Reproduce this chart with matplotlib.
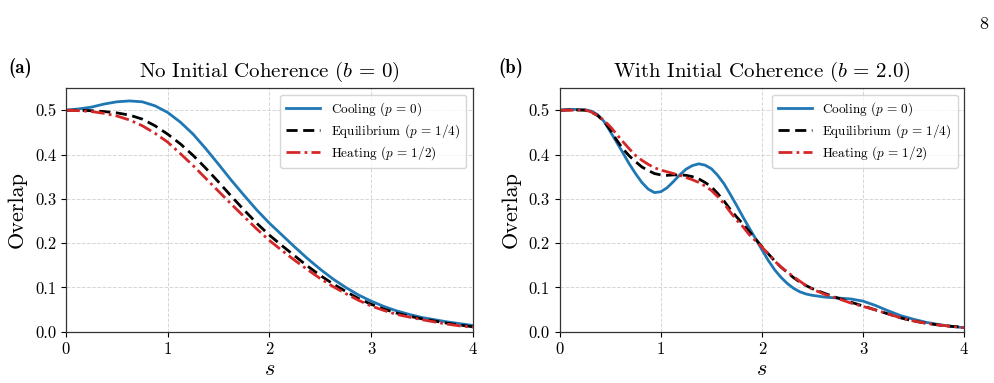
import numpy as np
import matplotlib
matplotlib.use("Agg")
import matplotlib.pyplot as plt

plt.rcParams.update({
    "font.family": "serif",
    "font.serif": ["cmr10"],
    "mathtext.fontset": "cm",
    "axes.formatter.use_mathtext": True,
    "axes.unicode_minus": False,
})

# Panel (a): no initial coherence (b = 0)
s_a = [0.0, 0.125, 0.25, 0.375, 0.5, 0.625, 0.75, 0.875, 1.0, 1.125, 1.25, 1.375,
       1.5, 1.625, 1.75, 1.875, 2.0, 2.125, 2.25, 2.375, 2.5, 2.625, 2.75, 2.875,
       3.0, 3.125, 3.25, 3.375, 3.5, 3.625, 3.75, 3.875, 4.0]
cool_a = [0.500, 0.503, 0.507, 0.514, 0.519, 0.521, 0.519, 0.510, 0.495, 0.473,
          0.446, 0.413, 0.378, 0.342, 0.308, 0.275, 0.245, 0.218, 0.191, 0.165,
          0.141, 0.119, 0.100, 0.083, 0.069, 0.057, 0.047, 0.039, 0.032, 0.027,
          0.022, 0.018, 0.014]
eq_a = [0.500, 0.500, 0.499, 0.497, 0.494, 0.489, 0.480, 0.465, 0.446, 0.424,
        0.398, 0.369, 0.338, 0.306, 0.275, 0.245, 0.218, 0.194, 0.171, 0.148,
        0.127, 0.108, 0.091, 0.075, 0.062, 0.051, 0.042, 0.035, 0.029, 0.024,
        0.019, 0.015, 0.011]
heat_a = [0.500, 0.499, 0.497, 0.493, 0.487, 0.478, 0.465, 0.448, 0.428, 0.402,
          0.375, 0.346, 0.317, 0.288, 0.260, 0.232, 0.206, 0.183, 0.161, 0.140,
          0.120, 0.102, 0.086, 0.071, 0.058, 0.048, 0.039, 0.033, 0.027, 0.022,
          0.017, 0.013, 0.010]

# Panel (b): with initial coherence (b = 2.0)
s_b = [0.0, 0.125, 0.25, 0.3125, 0.375, 0.4375, 0.5, 0.5625, 0.625, 0.6875,
       0.75, 0.8125, 0.875, 0.9375, 1.0, 1.0625, 1.125, 1.1875, 1.25, 1.3125,
       1.375, 1.4375, 1.5, 1.5625, 1.625, 1.6875, 1.75, 1.8125, 1.875, 1.9375,
       2.0, 2.0625, 2.125, 2.1875, 2.25, 2.3125, 2.375, 2.4375, 2.5, 2.625,
       2.75, 2.875, 3.0, 3.125, 3.25, 3.375, 3.5, 3.625, 3.75, 3.875, 4.0]
cool_b = [0.500, 0.502, 0.501, 0.498, 0.490, 0.475, 0.452, 0.428, 0.404, 0.379,
          0.357, 0.337, 0.322, 0.314, 0.316, 0.325, 0.339, 0.354, 0.367, 0.375,
          0.379, 0.376, 0.368, 0.353, 0.334, 0.310, 0.285, 0.259, 0.234, 0.210,
          0.185, 0.161, 0.140, 0.123, 0.109, 0.098, 0.090, 0.085, 0.082, 0.078,
          0.076, 0.074, 0.069, 0.059, 0.047, 0.036, 0.028, 0.021, 0.016, 0.012,
          0.009]
eq_b = [0.500, 0.501, 0.500, 0.496, 0.488, 0.475, 0.456, 0.433, 0.413, 0.397,
        0.384, 0.372, 0.364, 0.357, 0.354, 0.353, 0.354, 0.354, 0.353, 0.350,
        0.345, 0.337, 0.327, 0.312, 0.295, 0.276, 0.259, 0.243, 0.226, 0.209,
        0.192, 0.176, 0.160, 0.146, 0.134, 0.122, 0.112, 0.104, 0.097, 0.086,
        0.076, 0.067, 0.058, 0.049, 0.040, 0.031, 0.024, 0.019, 0.015, 0.012,
        0.010]
heat_b = [0.500, 0.500, 0.501, 0.496, 0.488, 0.477, 0.463, 0.446, 0.429, 0.413,
          0.398, 0.387, 0.378, 0.370, 0.365, 0.361, 0.357, 0.353, 0.348, 0.343,
          0.337, 0.329, 0.319, 0.305, 0.289, 0.270, 0.252, 0.237, 0.219, 0.205,
          0.191, 0.176, 0.160, 0.146, 0.135, 0.124, 0.114, 0.104, 0.096, 0.084,
          0.075, 0.065, 0.057, 0.049, 0.040, 0.031, 0.024, 0.019, 0.015, 0.012,
          0.009]

labels = [r"Cooling ($p\,=\,0$)", r"Equilibrium ($p\,=\,1/4$)", r"Heating ($p\,=\,1/2$)"]
titles = [r"No Initial Coherence ($b\,=\,0$)", r"With Initial Coherence ($b\,=\,2.0$)"]
panel_tags = ["(a)", "(b)"]
xticks = [0, 1, 2, 3, 4]
yticks = [0.0, 0.1, 0.2, 0.3, 0.4, 0.5]

fig = plt.figure(figsize=(9.95, 3.83), dpi=100)
ax_a = fig.add_axes([0.0663, 0.134, 0.4089, 0.636])
ax_b = fig.add_axes([0.5625, 0.134, 0.4065, 0.636])

panels = [(ax_a, s_a, cool_a, eq_a, heat_a), (ax_b, s_b, cool_b, eq_b, heat_b)]
for i, (ax, s, c, e, h) in enumerate(panels):
    ax.plot(s, c, color="#1f77b4", lw=2.0, ls="-", label=labels[0])
    ax.plot(s, e, color="black", lw=2.0, ls=(0, (4, 2)), label=labels[1])
    ax.plot(s, h, color="#d62728", lw=2.0, ls=(0, (5, 1.5, 1, 1.5)), label=labels[2])
    ax.set_xlim(0, 4)
    ax.set_ylim(0, 0.55)
    ax.set_xticks(xticks)
    ax.set_yticks(yticks)
    ax.set_xticklabels([str(t) for t in xticks])
    ax.set_yticklabels([f"{t:.1f}" for t in yticks])
    ax.tick_params(labelsize=12, direction="out", length=3.5)
    ax.grid(True, ls="--", color="#cccccc", lw=0.7, alpha=0.8)
    ax.set_xlabel(r"$s$", fontsize=16, labelpad=2)
    ax.set_ylabel("Overlap", fontsize=16, labelpad=6)
    ax.set_title(titles[i], fontsize=15, pad=8)
    ax.legend(loc="upper right", fontsize=9.5, framealpha=0.8, edgecolor="#cccccc",
              handlelength=2.6, borderpad=0.45, labelspacing=0.3)
    for sp in ax.spines.values():
        sp.set_linewidth(0.9)
        sp.set_color("#333333")

fig.text(0.008, 0.81, panel_tags[0], fontsize=13.5, family="cmb10", ha="left", va="baseline")
fig.text(0.501, 0.81, panel_tags[1], fontsize=13.5, family="cmb10", ha="left", va="baseline")
fig.text(0.993, 0.925, "8", fontsize=13, ha="right", va="baseline")

fig.savefig("out.png", dpi=100)
